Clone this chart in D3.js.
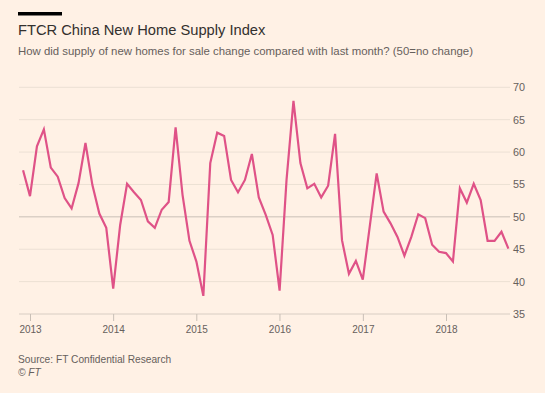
<!DOCTYPE html>
<html>
<head>
<meta charset="utf-8">
<script src="https://cdn.jsdelivr.net/npm/d3@7"></script>
<style>
  body { margin: 0; background: #fff1e5; }
  svg { display: block; font-family: "Liberation Sans", Arial, sans-serif; }
</style>
</head>
<body>
<svg id="chart" width="545" height="393"></svg>
<script>
// monthly index, Dec 2012 .. Oct 2018
const startMonth = [2012, 11];
const values = [
  57.2,
  53.2, 60.9, 63.5, 57.6, 56.2, 52.9, 51.3, 55.2, 61.4, 54.9, 50.5, 48.3,
  38.9, 48.7, 55.1, 53.8, 52.6, 49.3, 48.3, 51.1, 52.3, 63.8, 53.4, 46.3,
  43.1, 37.8, 58.3, 63.0, 62.5, 55.7, 53.8, 55.7, 59.7, 53.0, 50.3, 47.2,
  38.6, 55.7, 67.9, 58.3, 54.4, 55.1, 53.0, 54.8, 62.8, 46.4, 41.2, 43.2,
  40.3, 48.5, 56.7, 50.8, 49.0, 46.9, 44.0, 46.9, 50.4, 49.8, 45.7, 44.6,
  44.4, 43.1, 54.4, 52.2, 55.1, 52.6, 46.3, 46.3, 47.7, 45.1
];
const yearTicks = [2013, 2014, 2015, 2016, 2017, 2018];
const yTicks = [35, 40, 45, 50, 55, 60, 65, 70];

const title = "FTCR China New Home Supply Index";
const subtitle = "How did supply of new homes for sale change compared with last month? (50=no change)";
const source = "Source: FT Confidential Research";

const data = values.map((v, i) => ({
  date: new Date(startMonth[0], startMonth[1] + i, 1),
  value: v
}));

const svg = d3.select("#chart");

// x: Jan of each year lands on its tick
const x = d3.scaleUtc()
  .domain([Date.UTC(2013, 0, 1), Date.UTC(2018, 0, 1)])
  .range([30, 446]);
const xm = d => {
  // even month spacing like the original
  const m = (d.getFullYear() - 2013) * 12 + d.getMonth();
  return x(Date.UTC(2013, 0, 1)) + m * (x(Date.UTC(2018, 0, 1)) - x(Date.UTC(2013, 0, 1))) / 60;
};

const y = d3.scaleLinear().domain([35, 70]).range([314, 87.3]);

// header
svg.append("rect").attr("x", 18).attr("y", 12).attr("width", 44).attr("height", 3.5).attr("fill", "#000");
svg.append("text").attr("x", 18).attr("y", 35)
  .attr("font-size", 14.7).attr("fill", "#33302e").text(title);
svg.append("text").attr("x", 18).attr("y", 55)
  .attr("font-size", 11.4).attr("fill", "#66605c").text(subtitle);

// grid
const grid = svg.append("g");
grid.selectAll("line").data(yTicks).join("line")
  .attr("x1", 19).attr("x2", 510)
  .attr("y1", d => y(d)).attr("y2", d => y(d))
  .attr("stroke", d => d === 50 ? "#c9bfb6" : (d === 35 ? "#d8cdc3" : "#ece0d4"))
  .attr("stroke-width", 1);

const yAxis = d3.axisRight(y).tickValues(yTicks).tickSize(0).tickPadding(0);
svg.append("g")
  .attr("transform", "translate(513,0)")
  .call(yAxis)
  .call(g => g.select(".domain").remove())
  .call(g => g.selectAll("text").attr("fill", "#66605c").attr("font-size", 10.8)
    .attr("font-family", "Liberation Sans, Arial, sans-serif"));

const xAxis = d3.axisBottom(x)
  .tickValues(yearTicks.map(yr => Date.UTC(yr, 0, 1)))
  .tickFormat(d => new Date(d).getUTCFullYear())
  .tickSize(7).tickPadding(5);
svg.append("g")
  .attr("transform", "translate(0,314)")
  .call(xAxis)
  .call(g => g.select(".domain").remove())
  .call(g => g.selectAll("line").attr("stroke", "#c9bfb6"))
  .call(g => g.selectAll("text").attr("fill", "#66605c").attr("font-size", 10)
    .attr("font-family", "Liberation Sans, Arial, sans-serif"));

// line
const line = d3.line().x(d => xm(d.date)).y(d => y(d.value));
svg.append("path").datum(data)
  .attr("d", line)
  .attr("fill", "none")
  .attr("stroke", "#df5287")
  .attr("stroke-width", 2.2)
  .attr("stroke-linejoin", "miter");

// footer
svg.append("text").attr("x", 18).attr("y", 363)
  .attr("font-size", 10.2).attr("fill", "#66605c").text(source);
svg.append("text").attr("x", 18).attr("y", 376)
  .attr("font-size", 10.2).attr("fill", "#66605c").attr("font-style", "italic").text("© FT");
</script>
</body>
</html>
